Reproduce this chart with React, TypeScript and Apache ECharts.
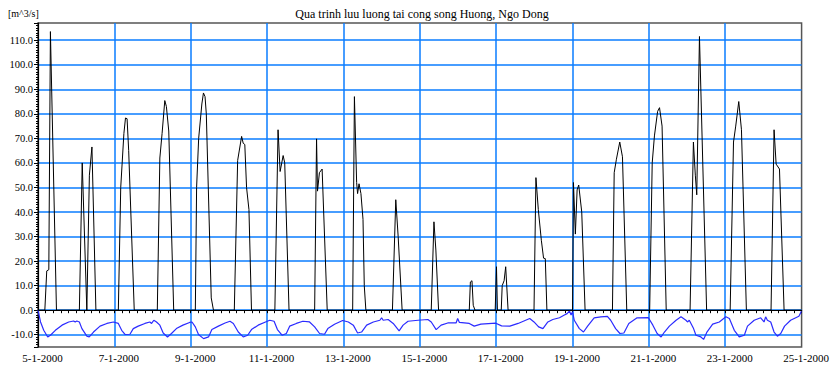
import React, { useEffect, useRef } from "react";
import * as echarts from "echarts";

// Hours since 5-1-2000 00:00, discharge [m^3/s]
const titleText = "Qua trinh luu luong tai cong song Huong, Ngo Dong";
const unitText = "[m^3/s]";
const startDay = 5;
const totalHours = 480;
const labelStepHours = 48;

const sluiceFlow: [number, number][] = [
  [0, 0], [4.3, 0], [5.5, 16], [6.8, 16.5], [7.8, 113.5], [11.6, 0],
  [26, 0], [27.8, 60], [30.7, 0], [32.3, 55], [33.9, 66.5], [36.4, 0],
  [50.5, 0], [52, 50], [54, 72], [55, 78.3], [56, 78], [57, 65], [60.5, 0],
  [75, 0], [76.6, 62], [78, 72], [79.7, 85.4], [80.7, 83], [82.2, 73], [85.3, 0],
  [98.9, 0], [99.7, 50], [101, 70], [103, 84], [104, 88.5], [105, 87], [105.8, 80], [108.9, 5], [110.3, 0],
  [123.4, 0], [125.5, 61], [128, 70.8], [129, 68], [130, 67.5], [131.1, 50], [132.6, 41], [134.2, 0],
  [148.9, 0], [150.9, 73.5], [152.2, 56.5], [154.1, 63], [155.1, 60], [157.8, 0],
  [173.9, 0], [175.1, 69.8], [175.7, 48.5], [176.9, 56], [178.6, 57.5], [181.8, 0],
  [197.8, 0], [198.9, 87], [200.3, 52], [200.9, 47.5], [201.8, 51.5], [203, 47.5], [204.3, 37], [205.1, 10], [206.1, 0],
  [222.8, 0], [224.9, 45], [226.4, 30], [228.9, 0],
  [247.2, 0], [248.9, 36], [250.1, 24.5], [251.8, 0],
  [271.1, 0], [271.8, 11.5], [272.8, 12], [273.6, 2], [274.7, 0],
  [287.4, 0], [288.2, 17.7], [288.8, 0], [291.2, 0], [291.8, 10], [293, 12], [294, 17.7], [295.5, 0],
  [311.8, 0], [313, 54], [314.5, 41], [316.4, 28.5], [317.8, 21.2], [318.9, 21], [319.9, 0],
  [336, 0], [336.6, 52], [337.8, 31], [338.9, 49], [339.9, 51], [341.8, 40], [343.9, 0],
  [361.1, 0], [362.2, 56], [363.6, 61.5], [365.7, 68.5], [367.4, 62.5], [370.1, 0],
  [384.5, 0], [386.1, 60], [387.5, 71], [389.5, 81], [390.7, 82.5], [392.3, 75], [394.9, 0],
  [409.9, 0], [412, 68.5], [413.2, 55], [414.1, 47], [415.8, 111.5], [420.3, 0],
  [435.1, 0], [437.2, 68.5], [438.6, 75], [440.5, 85], [442.2, 73.5], [445.3, 0],
  [460.8, 0], [462.7, 73.5], [464, 59.5], [466.1, 57.5], [469, 0], [480, 0],
];

const riverFlow: [number, number][] = [
  [0, 0], [1.6, -4.8], [3.6, -8.2], [6.1, -10.9], [7.8, -10.2], [10.9, -8.2], [15.1, -6.1], [19.3, -4.8],
  [22.4, -4.4], [23.4, -4.8], [24.4, -4.4], [26, -4.8], [27.6, -7.5], [30.7, -10.6], [32.2, -10.9], [34.9, -8.9],
  [39, -6.5], [43.3, -5.4], [47.4, -4.8], [50.5, -5.4], [52.6, -8.2], [54.7, -9.9], [57.8, -9.8], [59.9, -7.5],
  [63, -6.5], [67.2, -5.4], [70.3, -4.8], [71.4, -5.4], [72.8, -4.1], [74.5, -4.8], [76.6, -6.1], [78.7, -9.3],
  [81.4, -10.9], [83.9, -9.5], [87, -7.5], [91.1, -6.1], [95.3, -5.0], [96.8, -4.8], [98.9, -6.8], [100.9, -9.9],
  [104.1, -11.6], [107.2, -10.9], [109.3, -7.9], [113.4, -6.5], [117.6, -5.2], [120.7, -4.5], [122.8, -5.4],
  [125.9, -8.9], [129, -10.9], [131.8, -10.2], [134.2, -7.9], [138.4, -6.1], [143, -4.8], [145.7, -4.1],
  [148.4, -4.5], [150.5, -7.9], [153.4, -10.2], [156.1, -9.5], [158.2, -6.5], [162.4, -5.4], [166.5, -4.5],
  [170.7, -4.8], [173.9, -6.8], [177, -9.5], [180.1, -9.8], [182.2, -7.5], [186.4, -5.7], [191.5, -4.2],
  [195.1, -4.8], [198.2, -6.1], [200.9, -9.3], [203.4, -8.9], [206.6, -6.1], [210.8, -4.8], [214.9, -4.1],
  [216, -3.1], [217, -4.1], [220.1, -3.8], [223.3, -5.4], [227, -8.4], [229.5, -6.1], [232.6, -4.5],
  [238.9, -4.1], [245.1, -3.8], [247.2, -4.8], [250.3, -7.9], [253.4, -6.1], [257.6, -5.2], [262.8, -5.2],
  [263.8, -3.4], [264.9, -5.0], [271.1, -5.4], [274.2, -6.5], [278.4, -5.7], [287.8, -5.3], [291.4, -6.4],
  [296.6, -6.5], [301.8, -5.4], [309.1, -3.4], [311.8, -4.8], [314.7, -6.8], [317.4, -7.5], [320.5, -4.8],
  [323.6, -3.8], [327.8, -3.1], [330.9, -2.0], [332.6, -1.4], [334.1, -0.3], [335.1, -2.0], [336, -0.6],
  [337.1, -4.1], [340.3, -7.5], [342.9, -8.9], [345.5, -6.5], [349.6, -3.1], [353.8, -2.7], [357.9, -2.5],
  [360, -4.1], [363.1, -7.5], [365.8, -9.5], [368.3, -9.3], [371.4, -5.4], [376.6, -3.1], [383.6, -3.0],
  [386.5, -6.1], [389.2, -9.5], [391.7, -10.9], [393.8, -8.9], [396.9, -6.5], [401.1, -4.1], [404.2, -2.7],
  [407.3, -4.1], [408.4, -4.8], [409.4, -4.1], [412.1, -7.5], [413.6, -10.2], [416.7, -10.9], [418.4, -11.9],
  [420.5, -8.9], [424.1, -5.7], [428.3, -4.8], [432.4, -2.7], [434.6, -3.4], [437.7, -8.2], [440.8, -10.9],
  [444, -10.2], [446, -6.5], [450.2, -4.1], [454.3, -3.1], [456.4, -4.8], [457.4, -2.7], [458.5, -4.1],
  [460.6, -4.8], [462.7, -8.9], [464.8, -10.6], [466.9, -9.5], [469.3, -6.5], [473.1, -4.1], [478.3, -2.5],
  [479.9, -0.4], [480, -0.4],
];

const yMin = -15;
const yMax = 117;

const FONT = "Liberation Serif";
const GRID_BLUE = "#0a7cff";

export default function App() {
  const ref = useRef<HTMLDivElement>(null);
  useEffect(() => {
    if (!ref.current) return;
    const chart = echarts.init(ref.current, undefined, { renderer: "svg" });
    chart.setOption({
      animation: false,
      backgroundColor: "#fff",
      textStyle: { fontFamily: FONT },
      grid: {
        left: 38,
        right: 25,
        top: 23,
        bottom: 21,
        show: true,
        borderColor: "#555",
        borderWidth: 1.5,
      },
      graphic: [
        {
          type: "text",
          x: 422,
          y: 14,
          style: {
            text: titleText,
            fontFamily: FONT,
            fontSize: 12,
            fill: "#000",
            textAlign: "center",
            textVerticalAlign: "middle",
          },
        },
        {
          type: "text",
          x: 8,
          y: 13,
          style: {
            text: unitText,
            fontFamily: FONT,
            fontSize: 10,
            fill: "#000",
            textAlign: "left",
            textVerticalAlign: "middle",
          },
        },
      ],
      xAxis: {
        type: "value",
        min: 0,
        max: totalHours,
        interval: labelStepHours,
        axisLine: { show: true, lineStyle: { color: "#000", width: 1.2 } },
        axisTick: { show: true, length: 3, lineStyle: { color: "#000" } },
        minorTick: { show: true, splitNumber: 10, length: 3, lineStyle: { color: "#000" } },
        axisLabel: {
          fontFamily: FONT,
          fontSize: 11,
          color: "#000",
          margin: 5,
          padding: [0, 0, 0, 9],
          formatter: (v: number) => `${startDay + Math.round(v / 24)}-1-2000`,
        },
        splitLine: {
          show: true,
          showMinLine: false,
          showMaxLine: false,
          lineStyle: { color: GRID_BLUE, width: 1.5 },
        },
      },
      yAxis: [
        {
          type: "value",
          min: yMin,
          max: yMax,
          minInterval: 10,
          maxInterval: 10,
          splitNumber: 13,
          axisLine: { show: true, lineStyle: { color: "#000", width: 1.2 } },
          axisTick: { show: true, length: 4, lineStyle: { color: "#000" } },
          axisLabel: {
            fontFamily: FONT,
            fontSize: 10.5,
            color: "#000",
            margin: 5,
            formatter: (v: number) =>
              Math.abs(v % 10) < 1e-6 ? v.toFixed(1) : "",
          },
          splitLine: {
            show: true,
            showMinLine: false,
            showMaxLine: false,
            lineStyle: { color: GRID_BLUE, width: 1.5 },
          },
        },
        {
          type: "value",
          min: yMin,
          max: yMax,
          interval: 1,
          position: "left",
          axisLine: { show: false },
          axisTick: { show: true, length: 2, lineStyle: { color: "#000" } },
          axisLabel: { show: false },
          splitLine: { show: false },
        },
      ],
      series: [
        {
          type: "line",
          yAxisIndex: 0,
          data: riverFlow,
          showSymbol: false,
          lineStyle: { color: "#2b2bff", width: 1.2 },
          z: 3,
        },
        {
          type: "line",
          yAxisIndex: 0,
          data: sluiceFlow,
          showSymbol: false,
          lineStyle: { color: "#000", width: 1 },
          z: 4,
        },
      ],
    });
    return () => chart.dispose();
  }, []);
  return (
    <div
      ref={ref}
      style={{ position: "absolute", left: 0, top: 0, width: 832, height: 368 }}
    />
  );
}
